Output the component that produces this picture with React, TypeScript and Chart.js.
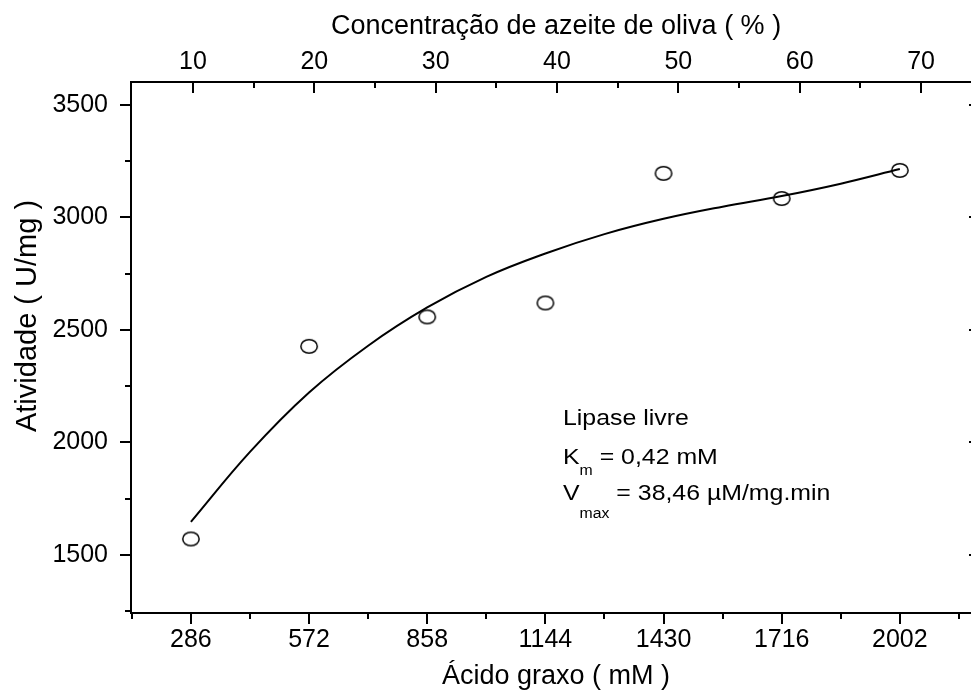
import React, { useEffect, useRef } from 'react';
import { Chart, registerables } from 'chart.js';

Chart.register(...registerables);

const FONT = '"Liberation Sans", Arial, Helvetica, sans-serif';

// ---- data ----
const acidoGraxo = [286, 572, 858, 1144, 1430, 1716, 2002];
const atividade = [1571, 2427, 2558, 2620, 3196, 3084, 3209];

const ajusteX = [286, 429, 572, 715, 858, 1001, 1144, 1287, 1430, 1573, 1716, 1859, 2002];
const ajusteY = [1647, 1958, 2222, 2430, 2600, 2736, 2840, 2926, 2994, 3048, 3095, 3150, 3215];

// ---- ticks ----
const xTicks = [286, 572, 858, 1144, 1430, 1716, 2002];
const xMinorTicks = [143, 429, 715, 1001, 1287, 1573, 1859, 2145];
const xTopTicks = [10, 20, 30, 40, 50, 60, 70];
const xTopMinorTicks = [15, 25, 35, 45, 55, 65];
const yTicks = [1500, 2000, 2500, 3000, 3500];
const yMinorTicks = [1250, 1750, 2250, 2750, 3250];

const X_MIN = 141;
const X_MAX = 2196;
const XTOP_MIN = 4.89;
const XTOP_MAX = 74.86;
const Y_MIN = 1242;
const Y_MAX = 3602;

// ---- texts ----
const topTitle = 'Concentração de azeite de oliva ( % )';
const bottomTitle = 'Ácido graxo ( mM )';
const leftTitle = 'Atividade ( U/mg )';
const noteTitle = 'Lipase livre';
const noteKm = ['K', 'm', ' = 0,42 mM'];
const noteVmax = ['V', 'max', ' = 38,46 \u00B5M/mg.min'];

function makeMarker(): HTMLCanvasElement {
  const c = document.createElement('canvas');
  c.width = 20;
  c.height = 17;
  const g = c.getContext('2d')!;
  g.strokeStyle = '#000';
  g.lineWidth = 1.5;
  g.beginPath();
  g.ellipse(10, 8.5, 8.2, 6.8, 0, 0, Math.PI * 2);
  g.stroke();
  return c;
}

const axesPlugin = {
  id: 'originAxes',
  afterDraw(chart: any) {
    const ctx = chart.ctx as CanvasRenderingContext2D;
    const { left, right, top, bottom } = chart.chartArea;
    const sx = chart.scales.x;
    const sx2 = chart.scales.x2;
    const sy = chart.scales.y;
    ctx.save();
    ctx.strokeStyle = '#000';
    ctx.lineWidth = 2;
    ctx.lineCap = 'butt';
    // frame
    ctx.beginPath();
    ctx.moveTo(left, top);
    ctx.lineTo(right, top);
    ctx.moveTo(left, bottom);
    ctx.lineTo(right, bottom);
    ctx.moveTo(left, top - 1);
    ctx.lineTo(left, bottom + 1);
    ctx.moveTo(right, top - 1);
    ctx.lineTo(right, bottom + 1);
    ctx.stroke();

    const MAJ = 11;
    const MIN = 6;
    ctx.beginPath();
    // bottom (outward)
    xTicks.forEach((v) => {
      const p = Math.round(sx.getPixelForValue(v));
      ctx.moveTo(p, bottom);
      ctx.lineTo(p, bottom + MAJ);
    });
    xMinorTicks.forEach((v) => {
      const p = Math.round(sx.getPixelForValue(v));
      ctx.moveTo(p, bottom);
      ctx.lineTo(p, bottom + MIN);
    });
    // top (inward)
    xTopTicks.forEach((v) => {
      const p = Math.round(sx2.getPixelForValue(v));
      ctx.moveTo(p, top);
      ctx.lineTo(p, top + MAJ);
    });
    xTopMinorTicks.forEach((v) => {
      const p = Math.round(sx2.getPixelForValue(v));
      ctx.moveTo(p, top);
      ctx.lineTo(p, top + MIN);
    });
    // left (outward)
    yTicks.forEach((v) => {
      const p = Math.round(sy.getPixelForValue(v));
      ctx.moveTo(left, p);
      ctx.lineTo(left - MAJ, p);
    });
    yMinorTicks.forEach((v) => {
      const p = Math.round(sy.getPixelForValue(v));
      ctx.moveTo(left, p);
      ctx.lineTo(left - MIN, p);
    });
    // right (inward)
    yTicks.forEach((v) => {
      const p = Math.round(sy.getPixelForValue(v));
      ctx.moveTo(right, p);
      ctx.lineTo(right - MAJ, p);
    });
    yMinorTicks.forEach((v) => {
      const p = Math.round(sy.getPixelForValue(v));
      ctx.moveTo(right, p);
      ctx.lineTo(right - MIN, p);
    });
    ctx.stroke();

    // titles
    ctx.fillStyle = '#000';
    ctx.textBaseline = 'alphabetic';
    ctx.textAlign = 'center';
    ctx.font = `27px ${FONT}`;
    ctx.fillText(topTitle, 556, 34);
    ctx.fillText(bottomTitle, 556, 684);
    ctx.save();
    ctx.translate(36, 316);
    ctx.rotate(-Math.PI / 2);
    ctx.font = `29px ${FONT}`;
    ctx.fillText(leftTitle, 0, 0);
    ctx.restore();

    // annotation (text is slightly wide in the reference)
    const SX = 1.13;
    const big = `22px ${FONT}`;
    const small = `14px ${FONT}`;
    const x0 = 563;
    ctx.textAlign = 'left';
    const put = (txt: string, x: number, y: number, font: string) => {
      ctx.save();
      ctx.font = font;
      ctx.translate(x, y);
      ctx.scale(SX, 1);
      ctx.fillText(txt, 0, 0);
      ctx.restore();
      ctx.font = font;
      return ctx.measureText(txt).width * SX;
    };
    put(noteTitle, x0, 425, big);
    const drawSub = (parts: string[], y: number, subDy: number) => {
      let x = x0;
      x += put(parts[0], x, y, big);
      x += put(parts[1], x, y + subDy, small);
      put(parts[2], x, y, big);
    };
    drawSub(noteKm, 464, 11);
    drawSub(noteVmax, 500, 18);
    ctx.restore();
  },
};

export default function App() {
  const ref = useRef<HTMLCanvasElement | null>(null);

  useEffect(() => {
    if (!ref.current) return;
    const marker = makeMarker();
    const tickFont = { family: FONT, size: 25 };
    const chart = new Chart(ref.current, {
      type: 'scatter',
      data: {
        datasets: [
          {
            label: 'ajuste',
            data: ajusteX.map((x, i) => ({ x, y: ajusteY[i] })),
            showLine: true,
            borderColor: '#000',
            borderWidth: 2,
            pointRadius: 0,
            tension: 0.4,
            xAxisID: 'x',
            yAxisID: 'y',
          },
          {
            label: 'Lipase livre',
            data: acidoGraxo.map((x, i) => ({ x, y: atividade[i] })),
            showLine: false,
            pointStyle: marker as any,
            pointRadius: 8,
            borderColor: '#000',
            backgroundColor: 'rgba(0,0,0,0)',
            xAxisID: 'x',
            yAxisID: 'y',
          },
        ],
      },
      plugins: [axesPlugin],
      options: {
        responsive: false,
        animation: false,
        devicePixelRatio: 1,
        layout: { padding: 0 },
        plugins: {
          legend: { display: false },
          tooltip: { enabled: false },
        },
        scales: {
          x: {
            type: 'linear',
            position: 'bottom',
            min: X_MIN,
            max: X_MAX,
            afterBuildTicks: (s: any) => {
              s.ticks = xTicks.map((v) => ({ value: v }));
            },
            ticks: {
              font: tickFont,
              color: '#000',
              padding: 12,
              maxRotation: 0,
              autoSkip: false,
              callback: (v: any) => String(v),
            },
            grid: { display: false, drawTicks: false },
            border: { display: false },
            afterFit: (s: any) => {
              s.height = 78;
            },
          },
          x2: {
            type: 'linear',
            position: 'top',
            min: XTOP_MIN,
            max: XTOP_MAX,
            afterBuildTicks: (s: any) => {
              s.ticks = xTopTicks.map((v) => ({ value: v }));
            },
            ticks: {
              font: tickFont,
              color: '#000',
              padding: 5,
              maxRotation: 0,
              autoSkip: false,
              callback: (v: any) => String(v),
            },
            grid: { display: false, drawTicks: false },
            border: { display: false },
            afterFit: (s: any) => {
              s.height = 82;
            },
          },
          y: {
            type: 'linear',
            position: 'left',
            min: Y_MIN,
            max: Y_MAX,
            afterBuildTicks: (s: any) => {
              s.ticks = yTicks.map((v) => ({ value: v }));
            },
            ticks: {
              font: tickFont,
              color: '#000',
              padding: 23,
              autoSkip: false,
              callback: (v: any) => String(v),
            },
            grid: { display: false, drawTicks: false },
            border: { display: false },
            afterFit: (s: any) => {
              s.width = 131;
            },
          },
          y2: {
            type: 'linear',
            position: 'right',
            min: Y_MIN,
            max: Y_MAX,
            ticks: { display: false },
            grid: { display: false, drawTicks: false },
            border: { display: false },
            afterFit: (s: any) => {
              s.width = 10;
            },
          },
        },
      } as any,
    });
    return () => chart.destroy();
  }, []);

  return (
    <div
      style={{
        position: 'fixed',
        left: 0,
        top: 0,
        width: 971,
        height: 691,
        overflow: 'hidden',
        background: '#fff',
      }}
    >
      <canvas ref={ref} width={990} height={691} style={{ display: 'block' }} />
    </div>
  );
}
